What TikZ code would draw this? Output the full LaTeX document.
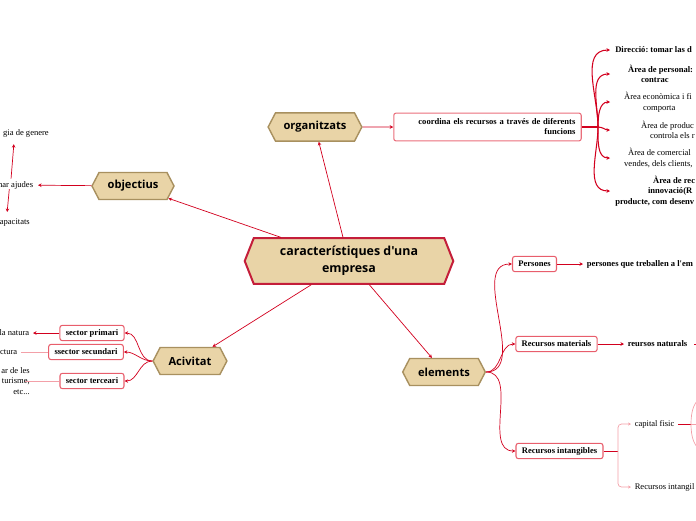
\documentclass[tikz,border=0pt]{standalone}
\usepackage{fontspec}
\setmainfont{Liberation Serif}
\newfontfamily\hexfont{Open Sans}
\font\hexcentral="Open Sans/B" at 10.6pt
\font\serifbold="Liberation Serif/B" at 7.3pt
\usetikzlibrary{arrows.meta, shapes.symbols}
\definecolor{hexfill}{HTML}{E9D4A7}
\definecolor{hexline}{HTML}{A8905F}
\definecolor{crimson}{HTML}{C41E3A}
\definecolor{linkred}{HTML}{D2001E}
\definecolor{boxred}{HTML}{E85E6C}
\definecolor{palered}{HTML}{F3A0A8}
\tikzset{
  hex/.style={shape=signal, signal to=west and east, signal pointer angle=125, draw=hexline,
    line width=1.2pt, fill=hexfill, minimum height=23pt, inner sep=0pt,
    font=\hexfont\bfseries\fontsize{9.5}{11}\selectfont},
  rbox/.style={draw=boxred, line width=0.9pt, rounded corners=2pt, fill=white, minimum height=13pt,
    inner xsep=5pt, inner ysep=1pt, font=\bfseries\fontsize{7.3}{8.5}\selectfont},
  txt/.style={inner sep=0pt, align=left, font=\fontsize{7.3}{9}\selectfont},
  btxt/.style={txt, font=\bfseries\fontsize{7.3}{9}\selectfont},
  arr/.style={-{Stealth[length=3pt, width=3pt]}, draw=linkred, line width=0.6pt},
  link/.style={draw=linkred, line width=0.6pt},
  pale/.style={draw=palered, line width=0.6pt},
  branch/.style={arr, line width=0.9pt},
}
\newcommand{\pad}[1]{\hspace*{#1pt}}
\frenchspacing

\begin{document}
\begin{tikzpicture}[x=0.03cm, y=-0.03cm]
  \useasboundingbox (0,0) rectangle (696,520);
  \clip (0,0) rectangle (696,520);

  % main topics
  \node[hex, draw=crimson, line width=1.7pt, signal pointer angle=137, minimum width=178pt,
    minimum height=39pt, align=center, font={\hexcentral\baselineskip=14.5pt}]
    (central) at (349,261) {característiques d'una\\empresa};
  \node[hex, minimum width=80pt, minimum height=24pt] (organitzats) at (315,127) {organitzats};
  \node[hex, minimum width=70pt] (objectius) at (133,186) {objectius};
  \node[hex, minimum width=63pt] (acivitat) at (190,361) {Acivitat};
  \node[hex, minimum width=70.5pt] (elements) at (444,372) {elements};

  \draw[arr] (central) -- (objectius);
  \draw[arr] (central) -- (organitzats);
  \draw[arr] (central) -- (acivitat);
  \draw[arr] (central) -- (elements);

  % organitzats
  \node[rbox, draw=boxred!90, minimum width=160pt, minimum height=23.8pt, text width=150pt,
    align=right] (coordina) at (487.5,127) {coordina els recursos a través de diferents\\funcions};
  \draw[arr] (organitzats) -- (coordina);
  \coordinate (orgjunc) at (598,127);
  \draw[link, line width=1.2pt] (coordina) -- (orgjunc);

  \node[btxt, anchor=west] (direccio) at (610,50) {\pad{4.3}Direcció: tomar las d};
  \node[btxt, anchor=west] (personal) at (610,74) {\pad{15.3}Àrea de personal:\\\pad{26.4}contrac};
  \node[txt, anchor=west] (economica) at (610,102) {\pad{11.9}Àrea econòmica i fi\\\pad{28}comporta};
  \node[txt, anchor=west] (produccio) at (610,130) {\pad{26.4}Àrea de produc\\\pad{34}controla els r};
  \node[txt, anchor=west] (comercial) at (610,158) {\pad{15.3}Àrea de comercial\\\pad{11.9}vendes, dels clients,};
  \node[btxt, anchor=west] (recerca) at (610,191) {\pad{36.6}Àrea de rec\\\pad{32.3}innovació(R\\\pad{4.3}producte, com desenv};

  \foreach \item/\ang in {direccio/90, personal/90, economica/90, produccio/0, comercial/-90, recerca/-90}
    \draw[branch] (orgjunc) to[out=\ang, in=180] (\item.west);

  % objectius
  \node[txt, anchor=east, inner sep=4pt] (ajudes) at (38,185) {mar ajudes};
  \node[txt, anchor=east] (genere) at (49,133) {gia de genere};
  \node[txt, anchor=east] (capacitats) at (30,223) {apacitats};
  \draw[arr] (objectius) -- (ajudes);
  \draw[arr] ([xshift=-23pt, yshift=-2pt]ajudes.north east) -- ([xshift=-30pt, yshift=-6pt]genere.south east);
  \draw[arr] ([xshift=-24.5pt, yshift=4pt]ajudes.south east) -- ([xshift=-19.5pt, yshift=6pt]capacitats.north east);

  % acivitat
  \node[rbox] (primari) at (92,333) {sector primari};
  \node[rbox] (secundari) at (86,352) {ssector secundari};
  \node[rbox] (terceari) at (92,381) {sector terceari};
  \foreach \sect in {primari, secundari, terceari}
    \draw[arr] (acivitat.west) to[out=180, in=0] (\sect.east);

  \node[txt, anchor=east, inner sep=3pt] (natura) at (33,333) {la natura};
  \node[txt, anchor=east, inner sep=3pt] (industria) at (21,352) {ctura};
  \node[txt, anchor=east, align=right] (serveis) at (30,381) {ar de les\\turisme,\\etc...};
  \draw[arr] (primari) -- (natura);
  \draw[pale] (secundari) -- (industria);
  \draw[pale] (terceari) -- ([xshift=-4pt]terceari.west -| serveis.east);

  % elements
  \node[rbox] (persones) at (534.5,264) {Persones};
  \node[rbox] (materials) at (556.5,344) {Recursos materials};
  \node[rbox] (intangibles) at (559.5,451) {Recursos intangibles};
  \foreach \res in {persones, materials, intangibles}
    \draw[arr] (elements.east) to[out=0, in=180] (\res.west);

  \node[btxt, anchor=west, inner sep=3pt, font=\serifbold] (treballen) at (583,264) {persones que treballen a l'em};
  \node[btxt, anchor=west, inner sep=3pt] (naturals) at (624,344) {reursos naturals};
  \coordinate (naturalsout) at (710,344);
  \draw[arr] (persones) -- (treballen);
  \draw[arr] (materials) -- (naturals);
  \draw[link] ([xshift=3pt]naturals.east) -- (naturalsout);

  \node[txt, anchor=west, inner sep=3pt] (fisic) at (631,424) {capital fisic};
  \node[txt, anchor=west, inner sep=3pt] (intangil) at (631,487) {Recursos intangil};
  \coordinate (intjunc) at (618,451);
  \draw[link] (intangibles) -- (intjunc);
  \draw[pale, -{Stealth[length=2.5pt, width=2.5pt]}, rounded corners=3pt] (intjunc) |- (fisic.west);
  \draw[pale, -{Stealth[length=2.5pt, width=2.5pt]}, rounded corners=3pt] (intjunc) |- (intangil.west);

  \coordinate (fisicjunc) at (691,424);
  \coordinate (fisicup) at (705,398);
  \coordinate (fisicmid) at (705,424);
  \coordinate (fisicdown) at (705,450);
  \draw[link] (fisic) -- (fisicjunc);
  \draw[pale] (fisicjunc) to[out=90, in=180] (fisicup);
  \draw[pale] (fisicjunc) -- (fisicmid);
  \draw[pale] (fisicjunc) to[out=-90, in=180] (fisicdown);
\end{tikzpicture}
\end{document}
